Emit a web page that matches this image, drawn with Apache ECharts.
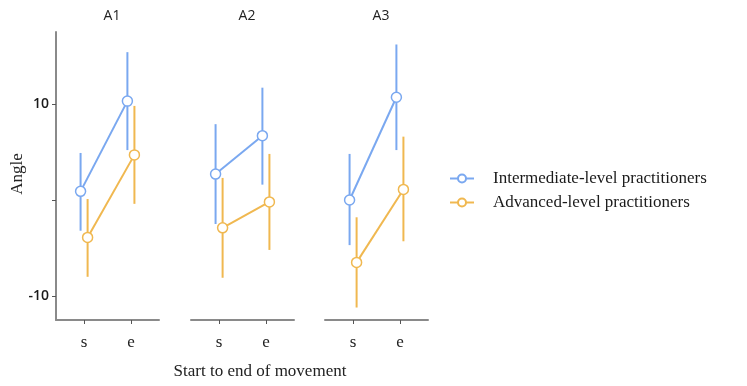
<!DOCTYPE html>
<html>
<head>
<meta charset="utf-8">
<script src="https://cdn.jsdelivr.net/npm/echarts@6/dist/echarts.min.js"></script>
<style>
  html, body { margin: 0; padding: 0; background: #fff; }
  #chart { width: 747px; height: 386px; }
</style>
</head>
<body>
<div id="chart"></div>
<script>
// panels and x categories
const panels = ['A1', 'A2', 'A3']
const phases = ['s', 'e']
const groups = ['Intermediate-level practitioners', 'Advanced-level practitioners']
const groupColors = ['#7aa8f0', '#f0b850']

// means per panel [s, e]
const interMean = [[0.9, 10.3], [2.7, 6.7], [0.0, 10.7]]
const interLow = [[-3.2, 5.2], [-2.5, 1.6], [-4.7, 5.2]]
const interHigh = [[4.9, 15.4], [7.9, 11.7], [4.8, 16.2]]

const advMean = [[-3.9, 4.7], [-2.9, -0.2], [-6.5, 1.1]]
const advLow = [[-8.0, -0.4], [-8.1, -5.2], [-11.2, -4.3]]
const advHigh = [[0.1, 9.8], [2.3, 4.8], [-1.8, 6.6]]

const yTicks = [-10, 0, 10]
const yLabels = [-10, 10]

const serif = '"Liberation Serif", "DejaVu Serif", serif'
const sans = '"Open Sans", "Noto Sans", sans-serif'
const axisGrey = '#8a8a8a'

const panelLeft = [56, 191, 325]
const dodge = 0.075

const grids = []
const xAxes = []
const yAxes = []
const series = []
const titles = []

panels.forEach((p, i) => {
  grids.push({ left: panelLeft[i], top: 32, width: 103, height: 288 })
  xAxes.push({
    type: 'value', gridIndex: i, min: 0.4, max: 2.6,
    splitLine: { show: false },
    axisLine: { show: true, onZero: false, lineStyle: { color: axisGrey, width: 2 } },
    axisTick: { show: true, customValues: [1, 2], length: 4, lineStyle: { color: '#555', width: 1 } },
    axisLabel: {
      customValues: [1, 2], margin: 14,
      formatter: v => phases[Math.round(v) - 1],
      fontFamily: serif, fontSize: 17, color: '#222'
    }
  })
  yAxes.push({
    type: 'value', gridIndex: i, min: -12.5, max: 17.5,
    show: i === 0,
    splitLine: { show: false },
    axisLine: { show: true, lineStyle: { color: axisGrey, width: 2 } },
    axisTick: { show: true, customValues: yTicks, length: 4, lineStyle: { color: '#555' } },
    axisLabel: { customValues: yLabels, fontFamily: sans, fontSize: 14, fontWeight: 600, color: '#1a1a1a', margin: 7 }
  })
  titles.push({
    text: p, left: panelLeft[i] + 51, top: 4, textAlign: 'center',
    textStyle: { fontFamily: sans, fontSize: 14, fontWeight: 'normal', color: '#222' }
  })

  const sets = [
    { mean: interMean[i], low: interLow[i], high: interHigh[i], off: -dodge },
    { mean: advMean[i], low: advLow[i], high: advHigh[i], off: dodge }
  ]
  sets.forEach((s, g) => {
    const errData = phases.map((ph, k) => [k + 1 + s.off, s.low[k], s.high[k]])
    series.push({
      type: 'custom', name: 'err' + g, xAxisIndex: i, yAxisIndex: i, z: 2,
      data: errData,
      renderItem: (params, api) => {
        const a = api.coord([api.value(0), api.value(1)])
        const b = api.coord([api.value(0), api.value(2)])
        return {
          type: 'line',
          shape: { x1: a[0], y1: a[1], x2: b[0], y2: b[1] },
          style: { stroke: groupColors[g], lineWidth: 2 }
        }
      }
    })
    series.push({
      type: 'line', name: groups[g], xAxisIndex: i, yAxisIndex: i, z: 3,
      data: phases.map((ph, k) => [k + 1 + s.off, s.mean[k]]),
      symbol: 'circle', symbolSize: 10,
      itemStyle: { color: '#fff', borderColor: groupColors[g], borderWidth: 1.5 },
      lineStyle: { color: groupColors[g], width: 2 }
    })
  })
})

titles.push({
  text: 'Start to end of movement', left: 255, top: 358, textAlign: 'center',
  textStyle: { fontFamily: serif, fontSize: 17, fontWeight: 'normal', color: '#222' }
})

const chart = echarts.init(document.getElementById('chart'))
chart.setOption({
  animation: false,
  title: titles,
  grid: grids,
  xAxis: xAxes,
  yAxis: yAxes,
  legend: {
    data: groups, orient: 'vertical', left: 444, top: 165,
    itemWidth: 24, itemHeight: 10, itemGap: 7,
    textStyle: { fontFamily: serif, fontSize: 17, color: '#1a1a1a', padding: [0, 0, 0, 14] }
  },
  graphic: [{
    type: 'text', x: 18, y: 174, rotation: Math.PI / 2,
    style: {
      text: 'Angle', font: '17px ' + serif, fill: '#222',
      align: 'center', verticalAlign: 'middle'
    }
  }],
  series: series
})
</script>
</body>
</html>
